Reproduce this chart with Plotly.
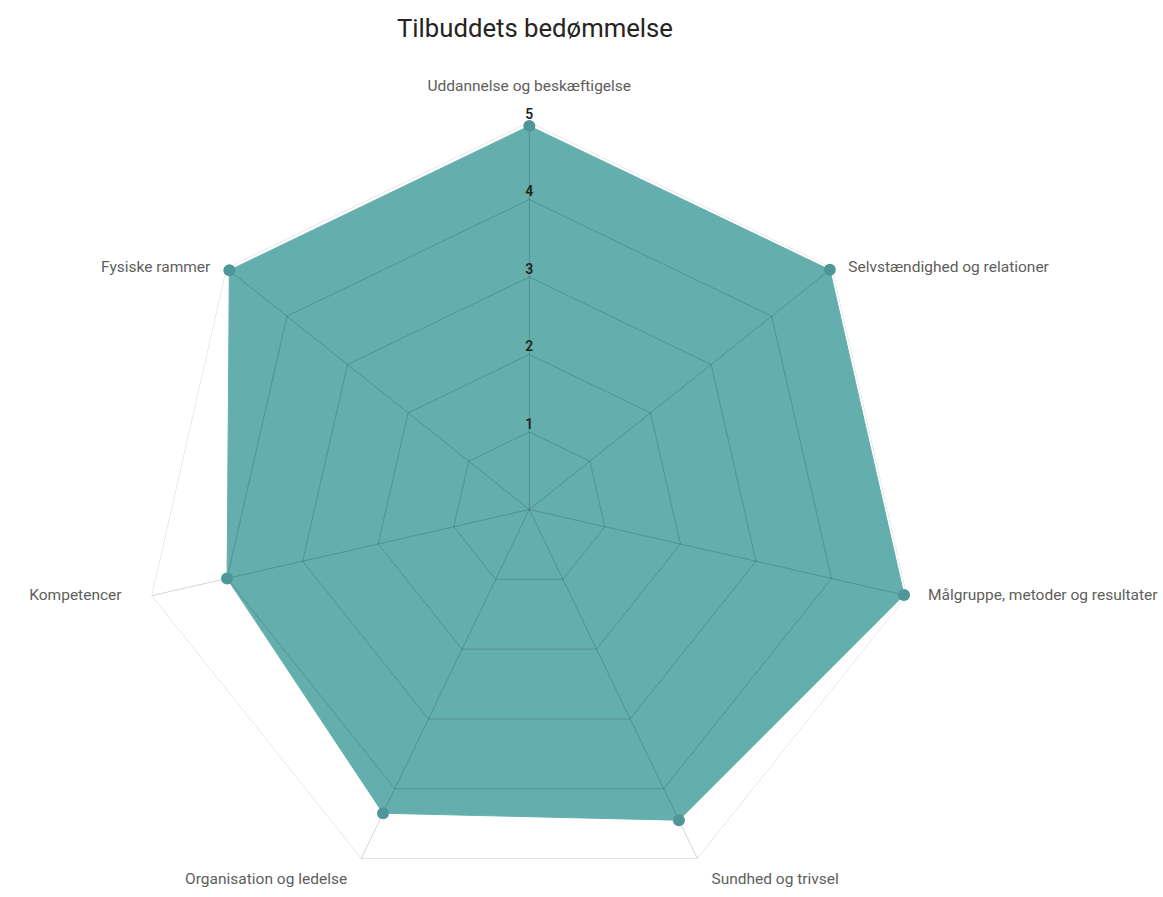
import plotly.graph_objects as go

categories = [
    "Uddannelse og beskæftigelse",
    "Selvstændighed og relationer",
    "Målgruppe, metoder og resultater",
    "Sundhed og trivsel",
    "Organisation og ledelse",
    "Kompetencer",
    "Fysiske rammer",
]
scores = [4.95, 4.96, 4.96, 4.45, 4.35, 4.0, 4.95]
tick_values = [1, 2, 3, 4, 5]
tick_labels = ["1", "2", "3", "4", "5"]

fill_color = "#64AFAE"
marker_color = "#4F9796"
grid_color = "rgba(0,0,0,0.17)"
label_font = "Roboto, 'Noto Sans', sans-serif"
label_color = "#605E5C"
label_size = 15.5

# label placement styles
label_anchor = ["top center", "middle right", "middle right", "bottom right",
                "bottom left", "middle left", "middle left"]
label_pad = [27, 16, 21, 14, 14, 30, 16]

fig = go.Figure()

# filled data polygon
fig.add_trace(go.Scatterpolar(
    r=scores + [scores[0]],
    theta=categories + [categories[0]],
    mode="lines",
    fill="toself",
    fillcolor=fill_color,
    line=dict(color=fill_color, width=1),
    hoverinfo="skip",
))

# grid rings drawn above the fill
for v in tick_values:
    fig.add_trace(go.Scatterpolar(
        r=[v] * (len(categories) + 1),
        theta=categories + [categories[0]],
        mode="lines",
        line=dict(color=grid_color, width=1),
        hoverinfo="skip",
    ))

# spokes drawn above the fill
for c in categories:
    fig.add_trace(go.Scatterpolar(
        r=[0, tick_values[-1]],
        theta=[c, c],
        mode="lines",
        line=dict(color=grid_color, width=1),
        hoverinfo="skip",
    ))

# data markers
fig.add_trace(go.Scatterpolar(
    r=scores,
    theta=categories,
    mode="markers",
    marker=dict(color=marker_color, size=12),
    hoverinfo="skip",
))

# radial tick labels along the top spoke
fig.add_trace(go.Scatterpolar(
    r=tick_values,
    theta=[categories[0]] * len(tick_values),
    mode="text",
    text=tick_labels,
    textposition="top center",
    textfont=dict(family=label_font, size=14, color="#252423", weight=600),
    cliponaxis=False,
    hoverinfo="skip",
))

# category labels around the outer ring
for i, c in enumerate(categories):
    fig.add_trace(go.Scatterpolar(
        r=[tick_values[-1]],
        theta=[c],
        mode="markers+text",
        text=[c],
        textposition=label_anchor[i],
        marker=dict(size=1.6 * (label_pad[i] - 1), color="rgba(0,0,0,0)"),
        textfont=dict(family=label_font, size=label_size, color=label_color),
        cliponaxis=False,
        hoverinfo="skip",
    ))

W, H = 1163, 897
cx_px, top_px, bottom_px = 529.3, 122.0, 897.0
half = 400.0

fig.update_layout(
    width=W,
    height=H,
    margin=dict(l=0, r=0, t=0, b=0),
    paper_bgcolor="white",
    plot_bgcolor="white",
    showlegend=False,
    title=dict(
        text="Tilbuddets bedømmelse",
        x=535 / W,
        xanchor="center",
        xref="paper",
        y=1 - 28 / H,
        yref="container",
        yanchor="middle",
        font=dict(family=label_font, size=25.7, color="#252423"),
    ),
    polar=dict(
        domain=dict(
            x=[(cx_px - half) / W, (cx_px + half) / W],
            y=[1 - bottom_px / H, 1 - top_px / H],
        ),
        bgcolor="white",
        gridshape="linear",
        radialaxis=dict(
            range=[0, 5],
            tickvals=tick_values,
            showticklabels=False,
            ticks="",
            showline=False,
            showgrid=False,
        ),
        angularaxis=dict(
            categoryarray=categories,
            categoryorder="array",
            direction="clockwise",
            rotation=90,
            showgrid=False,
            showline=False,
            showticklabels=False,
            ticks="",
        ),
    ),
)

fig.write_html(
    "out.html",
    config={"displayModeBar": False},
    post_script="document.body.style.margin='0px';document.body.style.overflow='hidden';",
)
